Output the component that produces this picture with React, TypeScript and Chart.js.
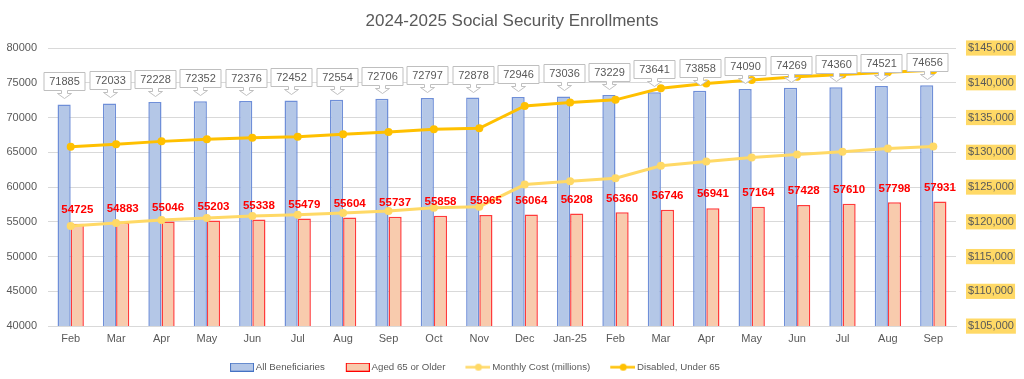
import React, { useEffect, useRef } from "react";
import { Chart, registerables } from "chart.js";

Chart.register(...registerables);

const categories = ["Feb", "Mar", "Apr", "May", "Jun", "Jul", "Aug", "Sep", "Oct", "Nov", "Dec", "Jan-25", "Feb", "Mar", "Apr", "May", "Jun", "Jul", "Aug", "Sep"];
const allBeneficiaries = [71885, 72033, 72228, 72352, 72376, 72452, 72554, 72706, 72797, 72878, 72946, 73036, 73229, 73641, 73858, 74090, 74269, 74360, 74521, 74656];
const aged65 = [54725, 54883, 55046, 55203, 55338, 55479, 55604, 55737, 55858, 55965, 56064, 56208, 56360, 56746, 56941, 57164, 57428, 57610, 57798, 57931];
const monthlyCost = [119400, 119830, 120260, 120550, 120840, 121030, 121270, 121560, 122040, 122180, 125360, 125840, 126270, 128060, 128680, 129260, 129690, 130080, 130560, 130850];
const disabledUnder65 = [130800, 131140, 131570, 131860, 132100, 132250, 132580, 132920, 133300, 133450, 136670, 137160, 137540, 139220, 139900, 140380, 140850, 141200, 141500, 141800];
const leftTicks = { min: 40000, max: 80000, step: 5000 };
const rightTicks = { min: 105000, max: 145000, step: 5000 };

const GRAY = "#595959";
const FONT = "'Liberation Sans', Arial, sans-serif";

// swatch images: 13px transparent margin on the left, 24px marker on the right
const SW_W = 37;
const SW_L = 13;
function barSwatch(fill: string, stroke: string) {
  const c = document.createElement("canvas");
  c.width = SW_W; c.height = 9;
  const x = c.getContext("2d")!;
  x.fillStyle = fill; x.fillRect(SW_L + 0.5, 0.5, 23, 8);
  x.strokeStyle = stroke; x.lineWidth = 1; x.strokeRect(SW_L + 0.5, 0.5, 23, 8);
  return c;
}
function lineSwatch(color: string) {
  const c = document.createElement("canvas");
  c.width = SW_W; c.height = 9;
  const x = c.getContext("2d")!;
  x.strokeStyle = color; x.lineWidth = 2.5;
  x.beginPath(); x.moveTo(SW_L - 1, 4.5); x.lineTo(SW_W, 4.5); x.stroke();
  x.fillStyle = color; x.beginPath(); x.arc(SW_L + 12, 4.5, 3.5, 0, Math.PI * 2); x.fill();
  return c;
}

// shift the (built-in) legend row left, as in the reference
const legendShift = {
  id: "legendShift",
  afterLayout(chart: any) {
    if (chart.legend) chart.legend.right -= 84;
  },
};

const labelPlugin = {
  id: "valueLabels",
  afterDatasetsDraw(chart: any) {
    const ctx = chart.ctx as CanvasRenderingContext2D;
    ctx.save();
    const m1 = chart.getDatasetMeta(1);
    ctx.font = `bold 11.5px ${FONT}`;
    ctx.fillStyle = "#FF0000";
    ctx.textAlign = "center";
    ctx.textBaseline = "middle";
    m1.data.forEach((el: any, i: number) => {
      ctx.fillText(String(aged65[i]), el.x, el.y - 14);
    });
    const m0 = chart.getDatasetMeta(0);
    ctx.font = `11px ${FONT}`;
    m0.data.forEach((el: any, i: number) => {
      const text = String(allBeneficiaries[i]);
      const tw = ctx.measureText(text).width;
      const w = Math.round(tw + 10);
      const h = 18;
      const cx = Math.round(el.x) + 0.5;
      const bottom = Math.round(el.y - 14) + 0.5;
      const top = bottom - h;
      const left = cx - w / 2;
      const sw = 3, hw = 7;
      const stemB = bottom + 3, tip = bottom + 8;
      ctx.beginPath();
      ctx.moveTo(left, top);
      ctx.lineTo(left + w, top);
      ctx.lineTo(left + w, bottom);
      ctx.lineTo(cx + sw, bottom);
      ctx.lineTo(cx + sw, stemB);
      ctx.lineTo(cx + hw, stemB);
      ctx.lineTo(cx, tip);
      ctx.lineTo(cx - hw, stemB);
      ctx.lineTo(cx - sw, stemB);
      ctx.lineTo(cx - sw, bottom);
      ctx.lineTo(left, bottom);
      ctx.closePath();
      ctx.fillStyle = "#FFFFFF";
      ctx.fill();
      ctx.strokeStyle = "#BFBFBF";
      ctx.lineWidth = 1;
      ctx.stroke();
      ctx.fillStyle = GRAY;
      ctx.fillText(text, cx, top + h / 2 + 0.5);
    });
    ctx.restore();
  },
};

export default function App() {
  const ref = useRef<HTMLCanvasElement>(null);
  useEffect(() => {
    document.body.style.margin = "0";
    const swatches = [
      barSwatch("#B4C7E7", "#4472C4"),
      barSwatch("#F8CBAD", "#FF0000"),
      lineSwatch("#FFD966"),
      lineSwatch("#FFC000"),
    ];
    const chart = new Chart(ref.current!, {
      type: "bar",
      data: {
        labels: categories,
        datasets: [
          {
            type: "bar",
            label: "All Beneficiaries",
            data: allBeneficiaries,
            backgroundColor: "#B4C7E7",
            borderColor: "#6F8FD8",
            borderWidth: 1.5,
            borderSkipped: false,
            categoryPercentage: 0.58,
            barPercentage: 1,
            yAxisID: "y",
            order: 2,
          },
          {
            type: "bar",
            label: "Aged 65 or Older",
            data: aged65,
            backgroundColor: "#F8CBAD",
            borderColor: "#FF3B3B",
            borderWidth: 1.5,
            borderSkipped: false,
            categoryPercentage: 0.58,
            barPercentage: 1,
            yAxisID: "y",
            order: 2,
          },
          {
            type: "line",
            label: "Monthly Cost (millions)",
            data: monthlyCost,
            borderColor: "#FFD966",
            backgroundColor: "#FFD966",
            borderWidth: 3,
            pointRadius: 4,
            pointBorderWidth: 0,
            pointBackgroundColor: "#FFD966",
            yAxisID: "y1",
            order: 1,
          },
          {
            type: "line",
            label: "Disabled, Under 65",
            data: disabledUnder65,
            borderColor: "#FFC000",
            backgroundColor: "#FFC000",
            borderWidth: 3,
            pointRadius: 4,
            pointBorderWidth: 0,
            pointBackgroundColor: "#FFC000",
            yAxisID: "y1",
            order: 1,
          },
        ] as any,
      },
      options: {
        animation: false,
        responsive: false,
        maintainAspectRatio: false,
        layout: { padding: { top: 0, right: 0, bottom: -3, left: 0 } },
        plugins: {
          title: {
            display: true,
            text: "2024-2025 Social Security Enrollments",
            color: GRAY,
            font: { family: FONT, size: 17, weight: "normal" },
            padding: { top: 11, bottom: 16.6 },
          },
          legend: {
            position: "bottom",
            labels: {
              color: GRAY,
              font: { family: FONT, size: 9.7 },
              usePointStyle: true,
              pointStyleWidth: SW_W - 6,
              boxHeight: 9,
              padding: 11,
              generateLabels: (ch: any) =>
                ch.data.datasets.map((ds: any, i: number) => ({
                  text: ds.label,
                  pointStyle: swatches[i],
                  fontColor: GRAY,
                  datasetIndex: i,
                  hidden: false,
                  lineWidth: 0,
                  strokeStyle: "transparent",
                  fillStyle: "transparent",
                })),
            },
          },
          tooltip: { enabled: false },
        },
        scales: {
          x: {
            grid: { display: false, drawTicks: false },
            border: { display: true, color: "#D9D9D9" },
            ticks: { color: GRAY, font: { family: FONT, size: 11 }, padding: 6, maxRotation: 0, autoSkip: false },
          },
          y: {
            position: "left",
            min: leftTicks.min,
            max: leftTicks.max,
            grid: { color: "#D9D9D9", drawTicks: false },
            border: { display: false },
            ticks: {
              stepSize: leftTicks.step,
              color: GRAY,
              font: { family: FONT, size: 11 },
              padding: 11,
              callback: (v: any) => String(v),
            },
            afterFit: (s: any) => { s.width = 48; },
          },
          y1: {
            position: "right",
            min: rightTicks.min,
            max: rightTicks.max,
            grid: { drawOnChartArea: false, drawTicks: false },
            border: { display: false },
            ticks: {
              stepSize: rightTicks.step,
              color: GRAY,
              font: { family: FONT, size: 11 },
              padding: 12,
              showLabelBackdrop: true,
              backdropColor: "#FFD966",
              backdropPadding: { top: 1, bottom: 1, left: 2, right: 2 },
              callback: (v: any) => "$" + Number(v).toLocaleString("en-US"),
            },
            afterFit: (s: any) => { s.width = 68; },
          },
        },
      } as any,
      plugins: [labelPlugin, legendShift],
    });
    return () => chart.destroy();
  }, []);
  return (
    <div style={{ width: 1024, height: 379, background: "#FFFFFF" }}>
      <canvas ref={ref} width={1024} height={379} style={{ display: "block" }} />
    </div>
  );
}
